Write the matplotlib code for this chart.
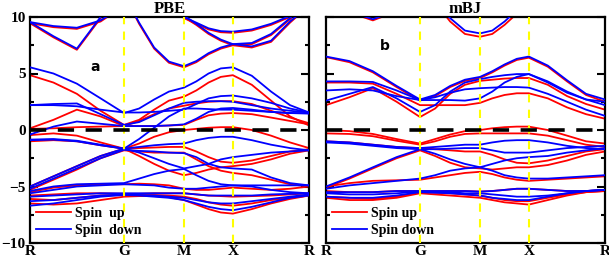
import matplotlib
matplotlib.use("Agg")
import matplotlib.pyplot as plt
from matplotlib.lines import Line2D

# k-path sample positions (R-G-M-X-R) and labels
k_points = [0, 0.084, 0.168, 0.253, 0.337, 0.391, 0.445, 0.498, 0.552,
            0.596, 0.640, 0.684, 0.727, 0.795, 0.864, 0.932, 1.0]
sym_pos = [0, 0.337, 0.552, 0.727, 1.0]
sym_labels = ["R", "G", "M", "X", "R"]

# ---------------- PBE ----------------
pbe_up = [
    [9.45, 8.2, 7.1, 9.9, 12, 12, 12, 12, 12, 12, 12, 12, 12, 12, 12, 12, 12],
    [9.45, 9.1, 8.95, 9.6, 11, 12, 12, 12, 12, 12, 12, 12, 12, 12, 12, 12, 12],
    [12, 12, 12, 12, 12, 9.4, 7.2, 5.95, 5.55, 6.0, 6.7, 7.2, 7.5, 7.6, 8.4, 9.8, 11.5],
    [12, 12, 12, 12, 12, 12, 12, 11, 10.0, 9.3, 8.5, 7.9, 7.5, 7.3, 7.8, 9.5, 11],
    [12, 12, 12, 12, 12, 12, 12, 11, 9.9, 9.4, 8.9, 8.65, 8.6, 8.8, 9.3, 10.0, 11],
    [4.85, 4.2, 3.2, 1.7, 0.45, 0.9, 1.8, 2.6, 2.95, 3.5, 4.2, 4.7, 4.85, 4.0, 2.6, 1.2, 0.4],
    [0.15, 0.9, 1.8, 1.2, 0.35, 0.8, 1.4, 1.9, 2.15, 2.35, 2.5, 2.55, 2.55, 2.3, 1.7, 1.1, 0.6],
    [0.1, 0.15, 0.25, 0.3, 0.35, 0.35, 0.35, 0.4, 0.45, 0.9, 1.3, 1.45, 1.5, 1.4, 1.1, 0.8, 0.5],
    [-0.45, -0.3, -0.5, -1.1, -1.65, -1.2, -0.6, -0.2, 0.0, 0.1, 0.2, 0.25, 0.25, 0.0, -0.5, -1.1, -1.6],
    [-1.0, -0.9, -1.0, -1.35, -1.65, -1.6, -1.55, -1.5, -1.5, -1.9, -2.4, -2.8, -2.9, -2.7, -2.3, -1.9, -1.7],
    [-5.0, -4.1, -3.2, -2.3, -1.65, -2.3, -3.0, -3.6, -4.0, -3.8, -3.5, -3.3, -3.2, -3.0, -2.6, -2.1, -1.8],
    [-5.3, -4.4, -3.5, -2.5, -1.8, -1.9, -2.0, -2.0, -2.0, -2.6, -3.2, -3.6, -3.8, -4.0, -4.4, -4.8, -5.0],
    [-5.5, -5.1, -4.9, -4.8, -4.8, -4.75, -4.8, -4.9, -5.2, -5.3, -5.3, -5.2, -5.1, -5.2, -5.3, -5.2, -5.0],
    [-5.8, -5.7, -5.6, -5.6, -5.65, -5.65, -5.6, -5.6, -5.6, -5.7, -5.8, -5.85, -5.9, -5.85, -5.8, -5.7, -5.6],
    [-6.1, -6.2, -6.0, -5.8, -5.75, -5.75, -5.75, -5.8, -5.9, -6.1, -6.4, -6.6, -6.7, -6.5, -6.2, -6.0, -5.8],
    [-6.5, -6.6, -6.5, -6.2, -5.9, -5.85, -5.85, -5.95, -6.2, -6.6, -7.0, -7.3, -7.4, -7.0, -6.5, -6.1, -5.8],
]
pbe_down = [
    [9.55, 8.3, 7.2, 10.0, 12, 12, 12, 12, 12, 12, 12, 12, 12, 12, 12, 12, 12],
    [9.55, 9.2, 9.05, 9.7, 11, 12, 12, 12, 12, 12, 12, 12, 12, 12, 12, 12, 12],
    [12, 12, 12, 12, 12, 9.5, 7.3, 6.05, 5.65, 6.1, 6.8, 7.3, 7.6, 7.7, 8.5, 9.9, 11.5],
    [12, 12, 12, 12, 12, 12, 12, 11, 10.1, 9.4, 8.6, 8.0, 7.6, 7.4, 7.9, 9.6, 11],
    [12, 12, 12, 12, 12, 12, 12, 11, 10.0, 9.5, 9.0, 8.75, 8.7, 8.9, 9.4, 10.1, 11],
    [5.55, 5.0, 4.1, 2.8, 1.5, 1.9, 2.7, 3.4, 3.75, 4.3, 5.0, 5.45, 5.55, 4.8, 3.4, 2.2, 1.55],
    [2.2, 2.2, 2.1, 1.8, 1.55, 1.55, 1.6, 1.7, 1.8, 2.3, 2.8, 3.0, 3.05, 2.8, 2.4, 1.9, 1.55],
    [2.2, 2.3, 2.35, 1.4, 0.45, 0.7, 1.3, 1.9, 2.4, 2.5, 2.55, 2.55, 2.5, 2.2, 1.9, 1.7, 1.55],
    [-0.4, 0.3, 0.75, 0.55, 0.35, 0.35, 0.35, 0.4, 0.5, 1.0, 1.6, 1.9, 1.95, 1.8, 1.6, 1.5, 1.5],
    [-0.85, -0.8, -0.95, -1.3, -1.65, -0.8, 0.2, 1.2, 1.9, 1.9, 1.85, 1.8, 1.8, 1.7, 1.6, 1.5, 1.45],
    [-0.9, -0.85, -1.0, -1.35, -1.65, -1.5, -1.35, -1.25, -1.2, -0.9, -0.7, -0.6, -0.6, -0.9, -1.3, -1.6, -1.8],
    [-5.0, -4.1, -3.2, -2.3, -1.65, -2.0, -2.5, -3.0, -3.4, -3.2, -3.0, -2.6, -2.4, -2.2, -2.0, -1.9, -1.8],
    [-5.2, -4.3, -3.4, -2.5, -1.75, -1.85, -1.9, -2.0, -2.05, -2.4, -3.0, -3.3, -3.4, -3.5, -4.2, -4.7, -4.9],
    [-5.4, -5.0, -4.8, -4.75, -4.7, -4.3, -3.9, -3.6, -3.45, -4.0, -4.5, -4.8, -4.9, -4.9, -4.9, -4.9, -4.9],
    [-5.6, -5.3, -5.0, -4.9, -4.8, -4.85, -4.9, -5.1, -5.2, -5.2, -5.1, -5.0, -4.9, -5.0, -5.3, -5.5, -5.6],
    [-5.9, -5.8, -5.7, -5.6, -5.6, -5.6, -5.6, -5.6, -5.6, -5.7, -5.8, -5.8, -5.8, -5.8, -5.7, -5.65, -5.6],
    [-6.3, -6.2, -6.0, -5.8, -5.7, -5.75, -5.8, -5.9, -6.0, -6.2, -6.4, -6.5, -6.5, -6.3, -6.1, -5.9, -5.7],
    [-6.7, -6.5, -6.2, -5.9, -5.75, -5.8, -5.9, -6.0, -6.2, -6.5, -6.8, -7.0, -7.1, -6.8, -6.4, -6.0, -5.8],
]

# ---------------- mBJ ----------------
mbj_up = [
    [11, 10.4, 9.7, 10.5, 12, 12, 12, 12, 12, 12, 12, 12, 12, 12, 12, 12, 12],
    [12, 12, 12, 12, 12, 11.3, 9.6, 8.5, 8.25, 8.5, 9.3, 10.3, 12, 12, 12, 12, 12],
    [6.45, 6.0, 5.1, 3.8, 2.6, 3.0, 3.8, 4.35, 4.6, 5.1, 5.7, 6.2, 6.4, 5.6, 4.3, 3.1, 2.5],
    [2.2, 2.9, 3.7, 2.5, 1.15, 1.9, 3.2, 4.0, 4.35, 4.45, 4.55, 4.6, 4.6, 4.0, 3.0, 2.3, 1.8],
    [4.2, 4.2, 4.1, 3.2, 2.2, 2.2, 2.2, 2.2, 2.4, 2.8, 3.1, 3.25, 3.25, 2.8, 2.0, 1.4, 1.0],
    [0.0, -0.1, -0.35, -0.8, -1.2, -0.8, -0.4, -0.1, 0.0, 0.15, 0.25, 0.3, 0.3, 0.0, -0.5, -1.0, -1.2],
    [-0.3, -0.35, -0.55, -0.95, -1.3, -1.0, -0.6, -0.35, -0.3, -0.3, -0.3, -0.3, -0.3, -0.5, -0.9, -1.3, -1.5],
    [-1.0, -1.1, -1.3, -1.5, -1.6, -1.7, -1.8, -1.9, -1.9, -2.2, -2.6, -2.9, -2.95, -2.7, -2.3, -1.9, -1.7],
    [-5.1, -4.3, -3.4, -2.5, -1.8, -2.3, -2.9, -3.3, -3.4, -3.5, -3.4, -3.3, -3.3, -3.1, -2.7, -2.2, -1.9],
    [-5.0, -4.7, -4.5, -4.45, -4.4, -4.2, -4.0, -3.8, -3.7, -3.9, -4.2, -4.4, -4.5, -4.4, -4.3, -4.2, -4.1],
    [-5.4, -5.5, -5.5, -5.4, -5.4, -5.4, -5.4, -5.4, -5.45, -5.4, -5.3, -5.2, -5.2, -5.3, -5.4, -5.4, -5.3],
    [-5.9, -6.0, -6.1, -5.9, -5.5, -5.55, -5.6, -5.7, -5.8, -6.0, -6.2, -6.3, -6.3, -6.0, -5.7, -5.5, -5.4],
    [-6.0, -6.2, -6.2, -6.0, -5.6, -5.7, -5.8, -5.9, -6.0, -6.2, -6.4, -6.5, -6.6, -6.2, -5.8, -5.5, -5.4],
]
mbj_down = [
    [11, 10.5, 9.8, 10.6, 12, 12, 12, 12, 12, 12, 12, 12, 12, 12, 12, 12, 12],
    [12, 12, 12, 12, 12, 11.5, 9.9, 8.8, 8.55, 8.8, 9.6, 10.6, 12, 12, 12, 12, 12],
    [6.5, 6.1, 5.2, 3.9, 2.7, 3.1, 3.9, 4.45, 4.7, 5.2, 5.8, 6.3, 6.5, 5.7, 4.4, 3.2, 2.7],
    [4.3, 4.3, 4.25, 3.5, 2.65, 2.65, 2.65, 2.6, 2.8, 3.4, 4.2, 4.7, 4.95, 4.3, 3.4, 2.7, 2.2],
    [2.6, 3.2, 3.8, 2.8, 1.6, 2.2, 3.4, 4.2, 4.5, 4.7, 4.85, 4.95, 4.95, 4.2, 3.3, 2.7, 2.5],
    [3.5, 3.6, 3.5, 3.0, 2.65, 2.9, 3.3, 3.6, 3.7, 3.75, 3.8, 3.8, 3.75, 3.2, 2.5, 1.8, 1.25],
    [-1.0, -1.1, -1.3, -1.5, -1.6, -1.5, -1.4, -1.3, -1.3, -1.1, -0.95, -0.9, -0.9, -1.1, -1.4, -1.6, -1.7],
    [-1.1, -1.2, -1.4, -1.6, -1.7, -1.7, -1.65, -1.6, -1.6, -1.8, -2.0, -2.0, -2.0, -1.8, -1.6, -1.5, -1.4],
    [-5.0, -4.2, -3.3, -2.4, -1.7, -2.1, -2.6, -3.0, -3.3, -3.0, -2.7, -2.5, -2.4, -2.3, -2.0, -1.8, -1.6],
    [-5.2, -4.9, -4.7, -4.5, -4.3, -4.0, -3.6, -3.4, -3.3, -3.6, -4.0, -4.2, -4.3, -4.3, -4.2, -4.1, -4.0],
    [-5.5, -5.5, -5.5, -5.4, -5.4, -5.4, -5.4, -5.4, -5.45, -5.4, -5.3, -5.2, -5.2, -5.3, -5.4, -5.4, -5.3],
    [-5.6, -5.7, -5.7, -5.6, -5.45, -5.5, -5.5, -5.6, -5.6, -5.7, -5.8, -5.9, -5.9, -5.8, -5.6, -5.4, -5.3],
    [-5.9, -6.0, -6.0, -5.8, -5.5, -5.55, -5.6, -5.7, -5.8, -6.0, -6.1, -6.2, -6.2, -5.9, -5.6, -5.4, -5.3],
]

panels = [
    ("PBE", "a", pbe_up, pbe_down, "Spin  up", "Spin  down", (0.233, 5.6)),
    ("mBJ", "b", mbj_up, mbj_down, "Spin up", "Spin down", (0.21, 7.4)),
]

plt.rcParams["font.family"] = ["Liberation Serif", "DejaVu Serif"]
fig = plt.figure(figsize=(6.09, 2.62), dpi=100)
lefts = [30 / 609, 326 / 609]
for i, (title, tag, up, down, lab_up, lab_dn, tagpos) in enumerate(panels):
    ax = fig.add_axes([lefts[i], 19 / 262, 279 / 609, 226 / 262])
    for b in up:
        ax.plot(k_points, b, color="red", lw=1.3, solid_joinstyle="round", zorder=2)
    for b in down:
        ax.plot(k_points, b, color="blue", lw=1.3, solid_joinstyle="round", zorder=3)
    for p in sym_pos[1:-1]:
        ax.axvline(p, color="#FFFF00", lw=1.5, ls=(0, (4, 3.5)), zorder=4)
    ax.axhline(0, color="black", lw=2.6, ls=(0, (4.5, 3.2)), zorder=5)
    ax.set_xlim(0, 1)
    ax.set_ylim(-10, 10)
    ax.set_xticks(sym_pos)
    ax.set_xticklabels(sym_labels, fontsize=11, fontweight="bold")
    ax.tick_params(axis="x", length=0, pad=1.5)
    ax.set_yticks([-10, -5, 0, 5, 10])
    ax.set_yticks([-7.5, -2.5, 2.5, 7.5], minor=True)
    ax.tick_params(axis="y", which="major", direction="in", length=6, width=1.5,
                   left=True, right=True, labelsize=11, pad=3)
    ax.tick_params(axis="y", which="minor", direction="in", length=3, width=1.5,
                   left=True, right=True)
    for lbl in ax.get_yticklabels():
        lbl.set_fontweight("bold")
    if i == 1:
        ax.set_yticklabels([])
    for s in ax.spines.values():
        s.set_linewidth(1.6)
    ax.set_title(title, fontsize=12, fontweight="bold", pad=2)
    ax.text(tagpos[0], tagpos[1], tag, fontsize=10, fontweight="bold",
            family="DejaVu Sans", ha="center", va="center")
    handles = [Line2D([], [], color="red", lw=1.3), Line2D([], [], color="blue", lw=1.3)]
    leg = ax.legend(handles, [lab_up, lab_dn], loc="lower left", frameon=False,
                    prop={"weight": "bold", "size": 10}, handlelength=2.5,
                    handletextpad=0.3, labelspacing=0.25, borderaxespad=0.15,
                    borderpad=0.3)
    leg.set_zorder(6)

fig.savefig("out.png", dpi=100)
